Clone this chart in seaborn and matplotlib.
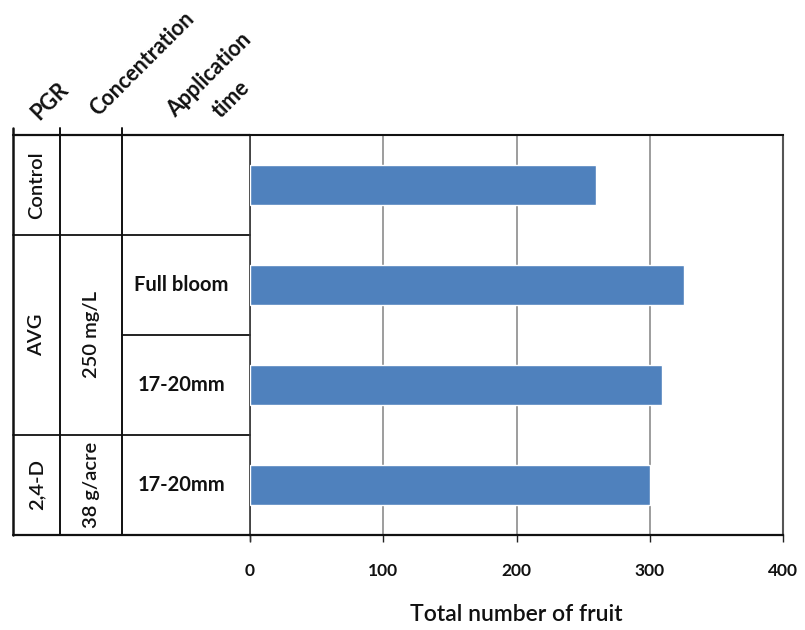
import matplotlib
matplotlib.use("Agg")
import matplotlib.pyplot as plt
import matplotlib.transforms as mtransforms
import seaborn as sns
import pandas as pd

# Treatments (one bar per row, top to bottom)
treatments = ["Control", "AVG 250 mg/L Full bloom", "AVG 250 mg/L 17-20mm", "2,4-D 38 g/acre 17-20mm"]
total_fruit = [260, 326, 309, 300]

# Category table labels drawn to the left of the bars
pgr_labels = ["Control", "AVG", "2,4-D"]
pgr_rows = [(0, 0), (1, 2), (3, 3)]          # first and last row of each group
conc_labels = ["", "250 mg/L", "38 g/acre"]
conc_rows = [(0, 0), (1, 2), (3, 3)]
time_labels = ["", "Full bloom", "17-20mm", "17-20mm"]
header_labels = ["PGR", "Concentration", "Application", "time"]

x_ticks = [0, 100, 200, 300, 400]
x_label = "Total number of fruit"

sns.set_theme(style="white")
plt.rcParams["font.family"] = ["Lato", "DejaVu Sans"]

W, H = 805, 630
fig = plt.figure(figsize=(W / 100, H / 100), dpi=100)

# pixel geometry of the plotting area
px_left, px_right, px_top, px_bottom = 250, 783, 135, 535
ax = fig.add_axes([px_left / W, 1 - px_bottom / H,
                   (px_right - px_left) / W, (px_bottom - px_top) / H])

df = pd.DataFrame({"treatment": treatments, "fruit": total_fruit})
sns.barplot(data=df, x="fruit", y="treatment", orient="h", color="#4f81bd",
            saturation=1, width=0.4, ax=ax, zorder=3)

ax.set_xlim(0, 400)
ax.set_ylim(3.5, -0.5)
ax.set_xticks(x_ticks)
ax.set_xticklabels([str(t) for t in x_ticks], fontsize=12.5, fontweight="bold",
                   color="#111111")
ax.tick_params(axis="x", which="major", direction="out", length=5, width=1,
               color="#222222", pad=15, bottom=True)
ax.set_yticks([])
ax.set_ylabel("")
ax.set_xlabel(x_label, fontsize=16.5, fontweight="semibold", labelpad=18,
              color="#111111")
ax.xaxis.grid(True, color="#8c8c8c", linewidth=1.2, zorder=0)
ax.set_axisbelow(True)

for s in ["left", "right", "top", "bottom"]:
    ax.spines[s].set_visible(True)
ax.spines["left"].set_color("#333333")
ax.spines["left"].set_linewidth(1.2)
ax.spines["right"].set_color("#555555")
ax.spines["right"].set_linewidth(1.5)
ax.spines["right"].set_linestyle((0, (2, 1)))
ax.spines["top"].set_color("#111111")
ax.spines["top"].set_linewidth(1.5)
ax.spines["bottom"].set_color("#111111")
ax.spines["bottom"].set_linewidth(1.6)

# table drawn in axes-fraction x and data y
trans = mtransforms.blended_transform_factory(ax.transAxes, ax.transData)
span = px_right - px_left
def fx(px):
    return (px - px_left) / span

col_x = [13, 60, 122, 250]
lc = "#111111"
# outer top and bottom borders of the table
for yv in (-0.5, 3.5):
    ax.plot([fx(col_x[0]), 0], [yv, yv], color=lc, lw=1.6, transform=trans, clip_on=False)
# vertical column lines, slightly extended above the top border
ext = 0.07
for i, cx in enumerate(col_x[:3]):
    ax.plot([fx(cx), fx(cx)], [-0.5 - ext, 3.5], color=lc,
            lw=1.8 if i == 0 else 1.4, transform=trans, clip_on=False)
# tick below the axis origin
ax.plot([0, 0], [3.5, 3.5 + 0.06], color="#333333", lw=1, transform=trans, clip_on=False)
# group separators
for yv in (0.5, 2.5):
    ax.plot([fx(col_x[0]), 0], [yv, yv], color=lc, lw=1.3, transform=trans, clip_on=False)
ax.plot([fx(col_x[2]), 0], [1.5, 1.5], color=lc, lw=1.3, transform=trans, clip_on=False)

# group labels
for lab, (r0, r1) in zip(pgr_labels, pgr_rows):
    ax.text(fx((col_x[0] + col_x[1]) / 2), (r0 + r1) / 2, lab, rotation=90,
            ha="center", va="center", fontsize=14.5, fontweight="semibold",
            color="#111111", transform=trans)
for lab, (r0, r1) in zip(conc_labels, conc_rows):
    if lab:
        ax.text(fx((col_x[1] + col_x[2]) / 2), (r0 + r1) / 2, lab, rotation=90,
                ha="center", va="center", fontsize=14.5, fontweight="semibold",
                color="#111111", transform=trans)
for r, lab in enumerate(time_labels):
    if lab:
        ax.text(fx(181), r, lab, ha="center", va="center", fontsize=14.5,
                fontweight="bold", color="#111111", transform=trans)

# slanted column headers
hdr_pos = [(50, 101), (142, 64), (209, 75), (231, 99)]
for lab, (hx, hy) in zip(header_labels, hdr_pos):
    fig.text(hx / W, 1 - hy / H, lab, rotation=45, ha="center", va="center",
             fontsize=15.5, fontweight="bold", color="#111111")

fig.savefig("out.png", dpi=100, facecolor="white")
